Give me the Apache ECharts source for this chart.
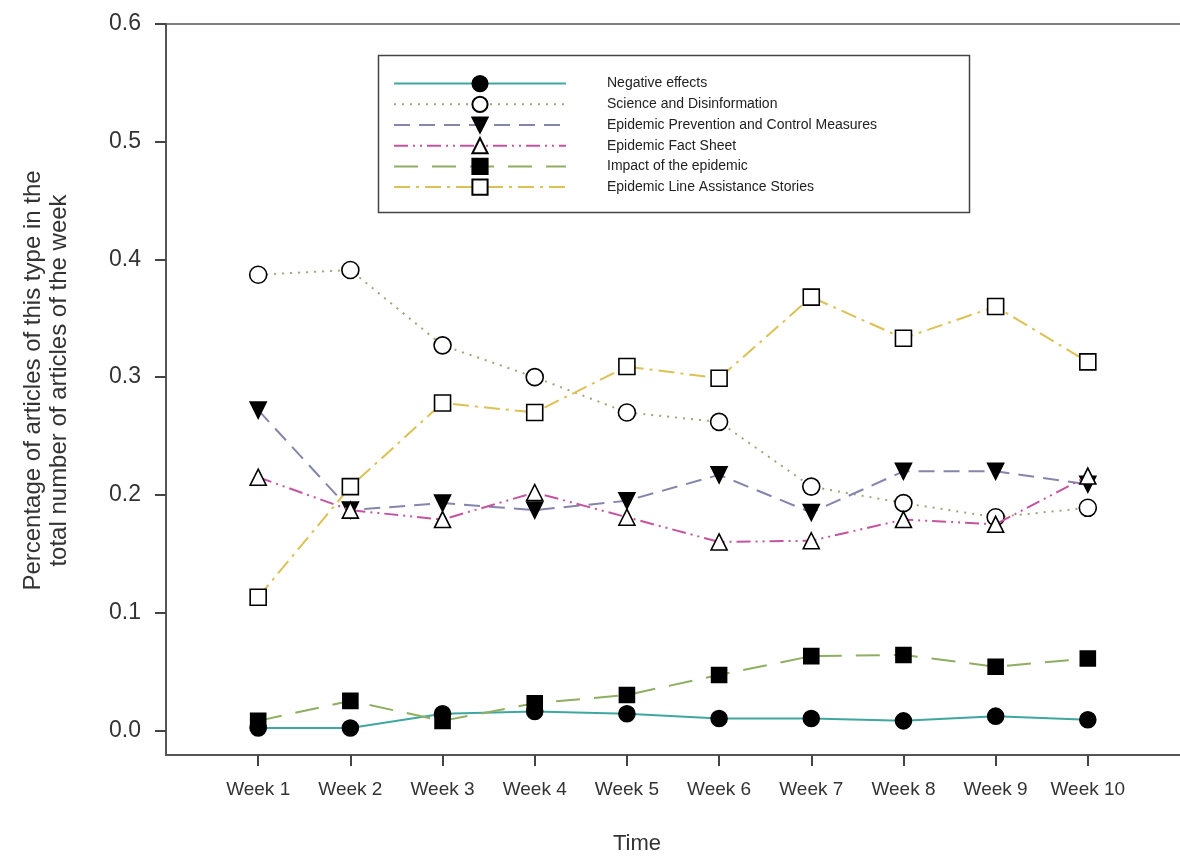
<!DOCTYPE html>
<html><head><meta charset="utf-8">
<script src="https://cdn.jsdelivr.net/npm/echarts@6/dist/echarts.min.js"></script>
<style>html,body{margin:0;padding:0;background:#fff}#c{width:1180px;height:860px}</style>
</head><body><div id="c"></div>
<script>
var weeks = ['Week 1','Week 2','Week 3','Week 4','Week 5','Week 6','Week 7','Week 8','Week 9','Week 10'];
var yTicks = [0, 0.1, 0.2, 0.3, 0.4, 0.5, 0.6];
var seriesNames = ['Negative effects','Science and Disinformation','Epidemic Prevention and Control Measures','Epidemic Fact Sheet','Impact of the epidemic','Epidemic Line Assistance Stories'];
var negativeEffects = [0.002, 0.002, 0.014, 0.016, 0.014, 0.010, 0.010, 0.008, 0.012, 0.009];
var scienceDisinfo = [0.387, 0.391, 0.327, 0.300, 0.270, 0.262, 0.207, 0.193, 0.181, 0.189];
var preventionControl = [0.272, 0.187, 0.193, 0.187, 0.195, 0.217, 0.185, 0.220, 0.220, 0.209];
var factSheet = [0.215, 0.187, 0.179, 0.202, 0.181, 0.160, 0.161, 0.179, 0.175, 0.216];
var impactEpidemic = [0.008, 0.025, 0.008, 0.023, 0.030, 0.047, 0.063, 0.064, 0.054, 0.061];
var lineAssistance = [0.113, 0.207, 0.278, 0.270, 0.309, 0.299, 0.368, 0.333, 0.360, 0.313];

function pts(arr){ return arr.map(function(v,i){ return [i+1, v]; }); }
var weekPos = weeks.map(function(w,i){ return i+1; });

var styles = [
  {data: negativeEffects, color:'#3fa7a0', type:'solid', symbol:'circle', fill:'#000', rot:0, size:16},
  {data: scienceDisinfo, color:'#a3a37a', type:[2,6], symbol:'circle', fill:'#fff', rot:0, size:17},
  {data: preventionControl, color:'#8585ac', type:[16,9], symbol:'triangle', fill:'#000', rot:180, size:16},
  {data: factSheet, color:'#c5549e', type:[14,5,2,5,2,5], symbol:'triangle', fill:'#fff', rot:0, size:16},
  {data: impactEpidemic, color:'#8fae62', type:[24,14], symbol:'rect', fill:'#000', rot:0, size:15},
  {data: lineAssistance, color:'#dcc155', type:[16,6,3,6], symbol:'rect', fill:'#fff', rot:0, size:16}
];

var series = styles.map(function(s, i){
  return {
    name: seriesNames[i], type:'line', data: pts(s.data),
    symbol: s.symbol, symbolSize: s.size, symbolRotate: s.rot,
    lineStyle:{color:s.color, width:2, type:s.type},
    itemStyle:{color:s.fill, borderColor:'#000', borderWidth:1.6},
    emphasis:{disabled:true}, animation:false, z: 2+i
  };
});

var chart = echarts.init(document.getElementById('c'), null, {renderer:'canvas'});
chart.setOption({
  backgroundColor:'#fff',
  animation:false,
  textStyle:{fontFamily:'Liberation Sans, Arial, sans-serif'},
  grid:{left:166, top:24, width:1021, height:735, show:false},
  legend:{
    orient:'vertical', left:393, top:75, itemWidth:172, itemHeight:19, itemGap:3.5,
    padding:0,
    textStyle:{fontSize:14, color:'#222', padding:[0,0,0,36]},
    data: seriesNames
  },
  graphic:[{type:'rect', left:376, top:53, shape:{width:591, height:157}, style:{fill:'none', stroke:'#444', lineWidth:1.5}, z:-1}],
  xAxis:[{
    type:'value', min:0, max:11,
    name:'Time', nameLocation:'middle', nameGap:78,
    nameTextStyle:{fontSize:22, color:'#333', padding:[0,72,0,0]},
    axisLine:{show:true, onZero:false, lineStyle:{color:'#555', width:2}},
    axisTick:{show:true, length:11, inside:false, customValues: weekPos, lineStyle:{color:'#444', width:2}},
    axisLabel:{fontSize:19, color:'#333', margin:25, customValues: weekPos,
      formatter:function(v){ return weeks[Math.round(v)-1] || ''; }},
    splitLine:{show:false}
  },{
    type:'value', min:0, max:11, position:'top',
    axisLine:{show:true, onZero:false, lineStyle:{color:'#555', width:1.5}},
    axisTick:{show:false}, axisLabel:{show:false}, splitLine:{show:false}
  }],
  yAxis:{
    type:'value', min:-0.021, max:0.6,
    name:'Percentage of articles of this type in the\ntotal number of articles of the week',
    nameLocation:'middle', nameGap:94,
    nameTextStyle:{fontSize:24, color:'#333', lineHeight:26, padding:[0,0,0,18]},
    axisLine:{show:true, onZero:false, lineStyle:{color:'#555', width:2}},
    axisTick:{show:true, length:11, customValues: yTicks, lineStyle:{color:'#444', width:2}},
    axisLabel:{fontSize:23, color:'#333', margin:25, customValues: yTicks,
      formatter:function(v){ return v.toFixed(1); }},
    splitLine:{show:false}
  },
  series: series
});
</script>
</body></html>
